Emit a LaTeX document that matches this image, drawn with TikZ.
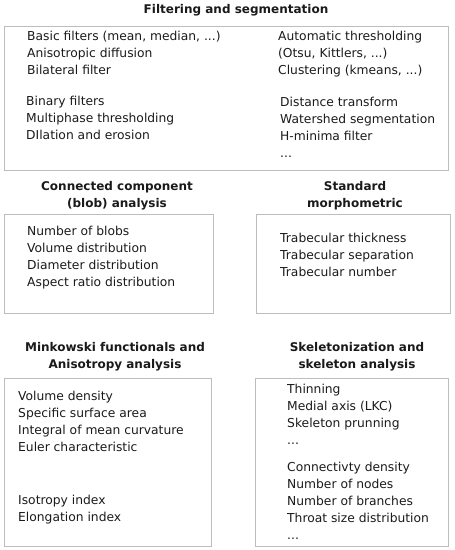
\documentclass[tikz,border=0pt]{standalone}
\usepackage{fontspec}
\setmainfont{DejaVu Sans}
\definecolor{boxgray}{HTML}{BDBDBD}
\definecolor{txt}{HTML}{1A1A1A}
\tikzset{
  panel/.style={draw=boxgray, line width=0.9pt},
  item/.style={anchor=base west, inner sep=0pt, align=left, text=txt,
    font=\fontsize{12.3}{17}\selectfont},
  heading/.style={anchor=base, inner sep=0pt, align=center, text=txt,
    font=\fontsize{12}{17}\selectfont\bfseries},
}
\begin{document}
\begin{tikzpicture}[x=1pt,y=-1pt]
\useasboundingbox (0,0) rectangle (455,550);
% titles (anchor = baseline of last line)
\node[heading] (t1) at (236,13.5) {Filtering and segmentation};
\node[heading] (t2) at (117,207) {Connected component\\(blob) analysis};
\node[heading] (t3) at (355,207) {Standard\\morphometric};
\node[heading] (t4) at (115,368) {Minkowski functionals and\\Anisotropy analysis};
\node[heading] (t5) at (357,368) {Skeletonization and\\skeleton analysis};
% boxes
\draw[panel] (4,26) rectangle (448,170);
\draw[panel] (4,214) rectangle (213,313);
\draw[panel] (256,214) rectangle (450,313);
\draw[panel] (4,378) rectangle (211,546);
\draw[panel] (255,378) rectangle (448,546);
% box 1
\node[item] (a1) at (27,74) {Basic filters (mean, median, ...)\\Anisotropic diffusion\\Bilateral filter};
\node[item] (a2) at (26,139.5) {Binary filters\\Multiphase thresholding\\DIlation and erosion};
\node[item] (a3) at (278,74) {Automatic thresholding\\(Otsu, Kittlers, ...)\\Clustering (kmeans, ...)};
\node[item] (a4) at (280,157) {Distance transform\\Watershed segmentation\\H-minima filter\\...};
% box 2
\node[item] (b1) at (27,286.5) {Number of blobs\\Volume distribution\\Diameter distribution\\Aspect ratio distribution};
% box 3
\node[item] (c1) at (280,276.5) {Trabecular thickness\\Trabecular separation\\Trabecular number};
% box 4
\node[item] (d1) at (18,451.5) {Volume density\\Specific surface area\\Integral of mean curvature\\Euler characteristic};
\node[item] (d2) at (18,521.5) {Isotropy index\\Elongation index};
% box 5
\node[item] (e1) at (287,444.5) {Thinning\\Medial axis (LKC)\\Skeleton prunning\\...};
\node[item] (e2) at (287,539.5) {Connectivty density\\Number of nodes\\Number of branches\\Throat size distribution\\...};
\end{tikzpicture}
\end{document}
